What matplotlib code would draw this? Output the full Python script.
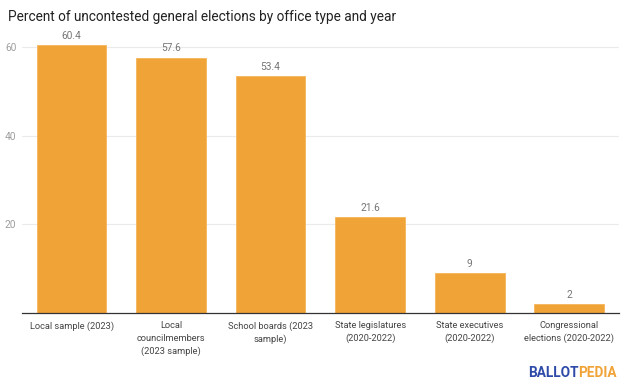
import matplotlib.pyplot as plt

categories = ['Local sample (2023)', 'Local\ncouncilmembers\n(2023 sample)',
              'School boards (2023\nsample)', 'State legislatures\n(2020-2022)',
              'State executives\n(2020-2022)', 'Congressional\nelections (2020-2022)']
values = [60.4, 57.6, 53.4, 21.6, 9, 2]
value_labels = ['60.4', '57.6', '53.4', '21.6', '9', '2']
yticks = [20, 40, 60]

plt.rcParams['font.family'] = ['Roboto', 'DejaVu Sans']

fig = plt.figure(figsize=(6.24, 3.88), dpi=100)
ax = fig.add_axes([0.035, 0.193, 0.957, 0.704])

bar_color = '#f0a336'
x = range(len(categories))
ax.bar(x, values, width=0.7, color=bar_color, edgecolor='#f5b55a', linewidth=0.6, zorder=3)

for xi, v, lab in zip(x, values, value_labels):
    ax.text(xi, v + 1.0, lab, ha='center', va='bottom', fontsize=7.3, color='#757575')

ax.set_xlim(-0.5, 5.5)
ax.set_ylim(0, 61.6)
ax.set_yticks(yticks)
ax.set_yticklabels([str(t) for t in yticks])
ax.set_xticks(list(x))
ax.set_xticklabels(categories, fontsize=6.7, color='#444444', linespacing=1.45)
ax.tick_params(axis='y', length=0, labelsize=7.3, labelcolor='#9e9e9e', pad=4)
ax.tick_params(axis='x', length=0, pad=6)
ax.grid(axis='y', color='#ebebeb', linewidth=0.8, zorder=0)

for s in ['top', 'right', 'left']:
    ax.spines[s].set_visible(False)
ax.spines['bottom'].set_color('#333333')
ax.spines['bottom'].set_linewidth(0.9)
ax.spines['bottom'].set_zorder(4)

fig.text(8 / 624, 1 - 17 / 388, 'Percent of uncontested general elections by office type and year',
         fontsize=9.8, color='#222222', va='center', ha='left')

# logo
t1 = fig.text(528 / 624, 1 - 373 / 388, 'BALLOT', fontsize=9.8, fontweight='bold',
              color='#2e4aa8', va='center', ha='left')
fig.canvas.draw()
bb = t1.get_window_extent()
fig.text(bb.x1 / fig.bbox.width, 1 - 373 / 388, 'PEDIA', fontsize=9.8, fontweight='bold',
         color='#f0a336', va='center', ha='left')

plt.savefig('out.png')
